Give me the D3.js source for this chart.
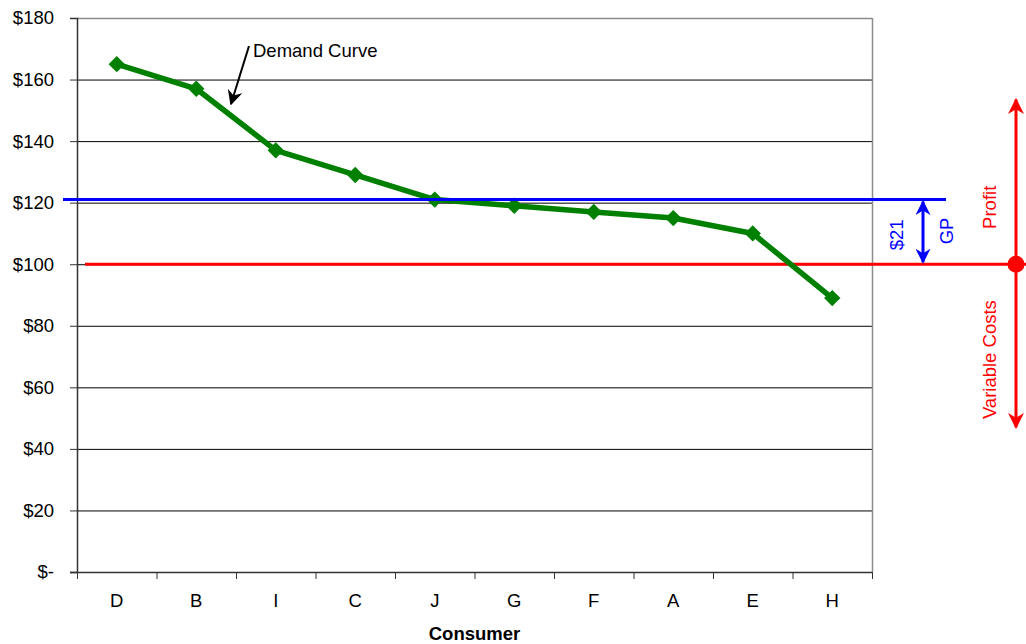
<!DOCTYPE html>
<html>
<head>
<meta charset="utf-8">
<script src="https://cdn.jsdelivr.net/npm/d3@7"></script>
<style>
  body { margin: 0; background: #fff; }
  svg { display: block; font-family: "Liberation Sans", Arial, sans-serif; }
</style>
</head>
<body>
<svg id="chart" width="1026" height="644"></svg>
<script>
// Consumers ordered by willingness to pay
const consumers = ["D", "B", "I", "C", "J", "G", "F", "A", "E", "H"];
const demand = [165, 157, 137, 129, 121, 119, 117, 115, 110, 89];
const yTicks = [0, 20, 40, 60, 80, 100, 120, 140, 160, 180];
const price = 121;        // selling price
const variableCost = 100; // variable cost per unit
const grossProfit = price - variableCost;

const FS = 18.5;
const svg = d3.select("#chart");
const plot = { left: 77, right: 872, top: 18, bottom: 572 };

const x = d3.scaleBand().domain(consumers).range([plot.left, plot.right]).padding(0);
const y = d3.scaleLinear().domain([0, 180]).range([plot.bottom, plot.top]);

// Horizontal gridlines
svg.append("g").selectAll("line").data(yTicks.filter(d => d > 0)).join("line")
  .attr("x1", plot.left).attr("x2", plot.right)
  .attr("y1", d => y(d) + 0.5).attr("y2", d => y(d) + 0.5)
  .attr("stroke", "#000").attr("stroke-width", 1);

// Plot frame (top and right edges)
svg.append("line")
  .attr("x1", plot.right + 0.5).attr("x2", plot.right + 0.5)
  .attr("y1", plot.top).attr("y2", plot.bottom)
  .attr("stroke", "#8c8c8c").attr("stroke-width", 1.5);
svg.append("line")
  .attr("x1", plot.left).attr("x2", plot.right)
  .attr("y1", plot.top + 0.5).attr("y2", plot.top + 0.5)
  .attr("stroke", "#8c8c8c").attr("stroke-width", 1.5);

// Y axis
const fmt = d => d === 0 ? "$-" : "$" + d;
const yAxis = svg.append("g").attr("transform", `translate(${plot.left},0)`)
  .call(d3.axisLeft(y).tickValues(yTicks).tickFormat(fmt).tickSize(7).tickPadding(16));
yAxis.select(".domain").attr("stroke", "#333").attr("stroke-width", 1.5);
yAxis.selectAll(".tick line").attr("stroke", "#333");
yAxis.selectAll("text").attr("font-size", FS).attr("fill", "#000")
  .attr("font-family", "Liberation Sans, Arial, sans-serif");

// X axis: ticks at category boundaries
const xAxisG = svg.append("g").attr("transform", `translate(0,${plot.bottom})`);
xAxisG.append("line").attr("x1", plot.left - 7).attr("x2", plot.right)
  .attr("y1", 0.5).attr("y2", 0.5).attr("stroke", "#333").attr("stroke-width", 1.5);
const bounds = consumers.map(c => x(c)).concat([plot.right]);
xAxisG.selectAll("line.tk").data(bounds).join("line").attr("class", "tk")
  .attr("x1", d => d + 0.5).attr("x2", d => d + 0.5).attr("y1", 0).attr("y2", 7)
  .attr("stroke", "#333").attr("stroke-width", 1);
xAxisG.selectAll("text").data(consumers).join("text")
  .attr("x", d => x(d) + x.bandwidth() / 2).attr("y", 35)
  .attr("text-anchor", "middle").attr("font-size", FS).text(d => d);

svg.append("text").attr("x", (plot.left + plot.right) / 2).attr("y", 640)
  .attr("text-anchor", "middle").attr("font-size", FS).attr("font-weight", "bold")
  .text("Consumer");

// Variable cost line
svg.append("line")
  .attr("x1", plot.left + 8).attr("x2", 1026)
  .attr("y1", y(variableCost)).attr("y2", y(variableCost))
  .attr("stroke", "#ff0000").attr("stroke-width", 3);

// Demand curve
const cx = (d, i) => x(consumers[i]) + x.bandwidth() / 2;
const line = d3.line().x((d, i) => cx(d, i)).y(d => y(d));
svg.append("path").datum(demand).attr("d", line)
  .attr("fill", "none").attr("stroke", "#008000").attr("stroke-width", 5.5)
  .attr("stroke-linejoin", "round");
svg.append("g").selectAll("path").data(demand).join("path")
  .attr("d", d3.symbol(d3.symbolDiamond2, 170)())
  .attr("transform", (d, i) => `translate(${cx(d, i)},${y(d)})`)
  .attr("fill", "#008000");

// Price line
svg.append("line")
  .attr("x1", plot.left - 14).attr("x2", plot.right + 74)
  .attr("y1", y(price)).attr("y2", y(price))
  .attr("stroke", "#0000ff").attr("stroke-width", 3);

// Arrow markers
const defs = svg.append("defs");
function marker(id, color, size) {
  defs.append("marker").attr("id", id)
    .attr("viewBox", "0 0 10 10").attr("refX", 9).attr("refY", 5)
    .attr("markerWidth", size).attr("markerHeight", size).attr("markerUnits", "userSpaceOnUse")
    .attr("orient", "auto-start-reverse")
    .append("path").attr("d", "M0,0 L10,5 L0,10 L3,5 Z").attr("fill", color);
}
marker("arrBlue", "#0000ff", 15);
marker("arrRed", "#ff0000", 16);
marker("arrBlack", "#000", 15);

// Gross profit arrow
const gpX = plot.right + 51;
svg.append("line")
  .attr("x1", gpX).attr("x2", gpX)
  .attr("y1", y(price) + 2).attr("y2", y(variableCost) - 2)
  .attr("stroke", "#0000ff").attr("stroke-width", 3)
  .attr("marker-start", "url(#arrBlue)").attr("marker-end", "url(#arrBlue)");
const midGP = (y(price) + y(variableCost)) / 2;
svg.append("text").attr("transform", `translate(${gpX - 20},${midGP + 3}) rotate(-90)`)
  .attr("text-anchor", "middle").attr("font-size", FS).attr("fill", "#0000ff")
  .text("$" + grossProfit);
svg.append("text").attr("transform", `translate(${gpX + 30},${midGP - 1}) rotate(-90)`)
  .attr("text-anchor", "middle").attr("font-size", FS).attr("fill", "#0000ff")
  .text("GP");

// Price decomposition arrow
const pX = 1016;
svg.append("line")
  .attr("x1", pX).attr("x2", pX).attr("y1", y(153.5)).attr("y2", y(47))
  .attr("stroke", "#ff0000").attr("stroke-width", 3)
  .attr("marker-start", "url(#arrRed)").attr("marker-end", "url(#arrRed)");
svg.append("circle").attr("cx", pX).attr("cy", y(variableCost)).attr("r", 8.5)
  .attr("fill", "#ff0000");
svg.append("text").attr("transform", `translate(${pX - 20},${y(118.5)}) rotate(-90)`)
  .attr("text-anchor", "middle").attr("font-size", FS).attr("fill", "#ff0000")
  .text("Profit");
svg.append("text").attr("transform", `translate(${pX - 20},${y(69)}) rotate(-90)`)
  .attr("text-anchor", "middle").attr("font-size", FS).attr("fill", "#ff0000")
  .text("Variable Costs");

// Demand curve callout
svg.append("line")
  .attr("x1", 249).attr("x2", 231).attr("y1", 46).attr("y2", 104)
  .attr("stroke", "#000").attr("stroke-width", 2)
  .attr("marker-end", "url(#arrBlack)");
svg.append("text").attr("x", 253).attr("y", 57).attr("font-size", FS).text("Demand Curve");
</script>
</body>
</html>
